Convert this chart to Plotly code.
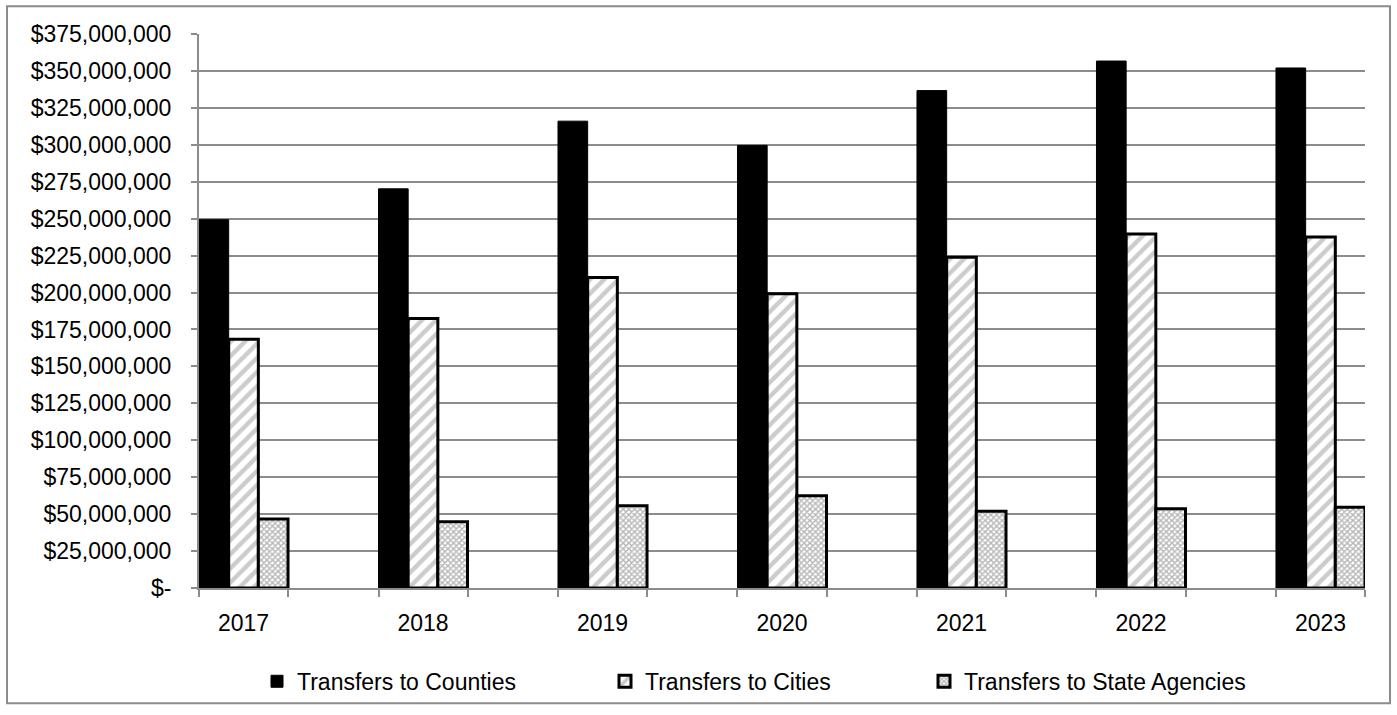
import plotly.graph_objects as go

years = [2017, 2018, 2019, 2020, 2021, 2022, 2023]
counties = [249_300_000, 270_200_000, 316_000_000, 299_600_000, 336_700_000, 356_700_000, 352_000_000]
cities = [168_300_000, 182_500_000, 210_200_000, 199_100_000, 223_900_000, 239_600_000, 237_600_000]
state_agencies = [46_700_000, 44_900_000, 55_600_000, 62_400_000, 51_900_000, 53_600_000, 54_600_000]
series_names = ["Transfers to Counties", "Transfers to Cities", "Transfers to State Agencies"]
y_ticks = [i * 25_000_000 for i in range(16)]
y_ticktext = ["$-" if v == 0 else f"${v:,.0f}" for v in y_ticks]

W, H = 1397, 715
L, R, T, B = 199, 1365, 34, 592
pw, ph = R - L, B - T

def px_x(p):
    return (p - L) / pw

def px_y(p):
    return (B - p) / ph

FONT = "Liberation Sans, Arial, sans-serif"
GRID = "#8c8c8c"

fig = go.Figure()
fig.add_trace(go.Bar(
    x=years, y=counties, name=series_names[0], legend="legend",
    marker=dict(color="black", line=dict(color="black", width=1)),
))
fig.add_trace(go.Bar(
    x=years, y=cities, name=series_names[1], legend="legend2",
    marker=dict(color="white", line=dict(color="black", width=3),
                pattern=dict(shape="/", fgcolor="#9a9a9a", bgcolor="white",
                             size=10, solidity=0.45, fillmode="overlay")),
))
fig.add_trace(go.Bar(
    x=years, y=state_agencies, name=series_names[2], legend="legend3",
    marker=dict(color="white", line=dict(color="black", width=3),
                pattern=dict(shape="x", fgcolor="#6e6e6e", bgcolor="white",
                             size=4, solidity=0.6, fillmode="overlay")),
))

half = 0.248
edges = []
for yv in years:
    edges += [yv - half, yv + half]

legend_common = dict(orientation="h", yanchor="middle", xanchor="left",
                     font=dict(family=FONT, size=23, color="black"),
                     bgcolor="rgba(0,0,0,0)", itemwidth=30)
ly = px_y(686)

fig.update_layout(
    width=W, height=H,
    margin=dict(l=L, r=W - R, t=T, b=H - B, pad=0),
    paper_bgcolor="white", plot_bgcolor="white",
    barmode="group", bargap=1 - 2 * half, bargroupgap=0,
    font=dict(family=FONT, size=23, color="black"),
    showlegend=True,
    legend=dict(x=px_x(257), y=ly, **legend_common),
    legend2=dict(x=px_x(605), y=ly, **legend_common),
    legend3=dict(x=px_x(924), y=ly, **legend_common),
    xaxis=dict(
        range=[years[0] - half, years[-1] + half],
        tickmode="array", tickvals=years, ticktext=[str(y) for y in years],
        ticks="outside", ticklen=13, tickcolor="rgba(0,0,0,0)",
        showline=True, linecolor=GRID, linewidth=2,
        showgrid=False, zeroline=False,
        minor=dict(tickmode="array", tickvals=edges, ticks="outside",
                   ticklen=7, tickwidth=2, tickcolor=GRID, showgrid=False),
        tickfont=dict(family=FONT, size=23, color="black"),
    ),
    yaxis=dict(
        range=[0, 375_000_000],
        tickmode="array", tickvals=y_ticks, ticktext=y_ticktext,
        ticks="outside", ticklen=6, tickwidth=2, tickcolor=GRID,
        showline=True, linecolor=GRID, linewidth=2,
        showgrid=True, gridcolor=GRID, gridwidth=2,
        zeroline=False,
        tickfont=dict(family=FONT, size=23, color="black"),
        ticklabelstandoff=15,
    ),
    shapes=[dict(type="rect", xref="paper", yref="paper",
                 x0=px_x(7), x1=px_x(1390), y0=px_y(708), y1=px_y(6),
                 line=dict(color="#8c8c8c", width=2), fillcolor="rgba(0,0,0,0)",
                 layer="below")],
)

fig.write_html("out.html")
